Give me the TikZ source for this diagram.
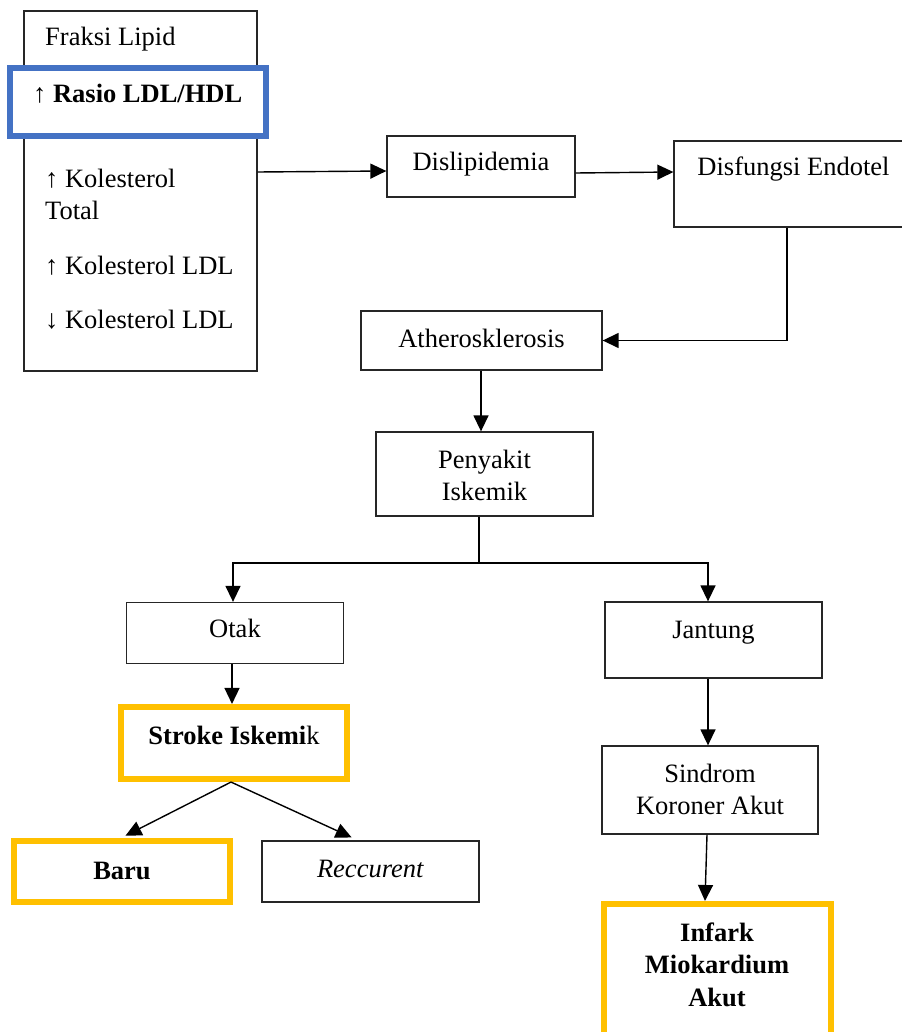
\documentclass[tikz,border=0pt]{standalone}
\usepackage{fontspec}
\setmainfont{Liberation Serif}
\usetikzlibrary{arrows.meta}
\definecolor{blueb}{HTML}{4472C4}
\definecolor{goldb}{HTML}{FFC000}
\begin{document}
\begin{tikzpicture}[x=1pt,y=-1pt,
  box/.style={draw=black!85, line width=1.3pt, inner sep=0pt, fill=white},
  hibox/.style={draw=goldb, line width=5.6pt, inner sep=0pt, fill=white},
  txt/.style={anchor=base, inner sep=0pt, font=\fontsize{26.5}{32.5}\selectfont},
  ltxt/.style={txt, anchor=base west},
  conn/.style={line width=1.4pt, draw=black},
  arr/.style={conn, -{Triangle[length=16pt,width=15pt]}}]
\useasboundingbox (0,0) rectangle (901,1032);

% boxes
\node[box, minimum width=233pt, minimum height=360pt] (lipid) at (140.5,191) {};
\node[hibox, draw=blueb, minimum width=256.3pt, minimum height=67.9pt] (ratio) at (137.85,102.25) {};
\node[box, minimum width=188pt, minimum height=61pt] (dis) at (481,166.5) {};
\node[box, minimum width=241pt, minimum height=86pt] (endo) at (794.5,184) {};
\node[box, minimum width=241pt, minimum height=59pt] (ath) at (481.5,340.5) {};
\node[box, minimum width=217pt, minimum height=84pt] (peny) at (484.5,474) {};
\node[box, minimum width=216.6pt, minimum height=61pt] (otak) at (235,633) {};
\node[box, minimum width=217pt, minimum height=76pt] (jant) at (713.5,640) {};
\node[hibox, minimum width=226.5pt, minimum height=72.5pt] (stroke) at (234,743) {};
\node[hibox, minimum width=216.4pt, minimum height=61.4pt] (baru) at (122,871.5) {};
\node[box, minimum width=217pt, minimum height=61pt] (rec) at (370.5,871.5) {};
\node[box, minimum width=216pt, minimum height=88pt] (sind) at (710,790) {};
\node[hibox, minimum width=227.5pt, minimum height=146.3pt] (inf) at (717.5,976.9) {};

% texts
\node[ltxt] (t-fl) at (45,46) {Fraksi Lipid};
\node[ltxt] (t-ratio) at (33,103) {↑ \textbf{Rasio LDL/HDL}};
\node[ltxt] (t-kt1) at (45,188) {↑ Kolesterol};
\node[ltxt] (t-kt2) at (45,220) {Total};
\node[ltxt] (t-ldl) at (45,274) {↑ Kolesterol LDL};
\node[ltxt] (t-ldl2) at (45,328) {↓ Kolesterol LDL};
\node[txt] (t-dis) at (481,171) {Dislipidemia};
\node[txt] (t-endo) at (793.5,176) {Disfungsi Endotel};
\node[txt] (t-ath) at (481.5,347) {Atherosklerosis};
\node[txt] (t-peny1) at (484.5,468) {Penyakit};
\node[txt] (t-peny2) at (484.5,500) {Iskemik};
\node[txt] (t-otak) at (235,637) {Otak};
\node[txt] (t-jant) at (713.5,638) {Jantung};
\node[txt] (t-stroke) at (234,744) {\textbf{Stroke Iskemi}k};
\node[txt] (t-baru) at (122,879) {\textbf{Baru}};
\node[txt] (t-rec) at (370.5,877) {\textit{Reccurent}};
\node[txt] (t-sind1) at (710,782) {Sindrom};
\node[txt] (t-sind2) at (710,814) {Koroner Akut};
\node[txt] (t-inf1) at (717,941) {\textbf{Infark}};
\node[txt] (t-inf2) at (717,973) {\textbf{Miokardium}};
\node[txt] (t-inf3) at (717,1006) {\textbf{Akut}};

% connectors
\draw[arr] (lipid.east |- 0,172) -- (dis.west |- 0,171);
\draw[arr] (dis.east |- 0,173) -- (endo.west |- 0,172);
\draw[arr] (endo.south -| 787,0) |- (ath.east);
\draw[arr] (ath.south -| 481,0) -- (peny.north -| 481,0);
\draw[conn] (peny.south -| 479,0) -- (479,563) coordinate (split);
\draw[arr] (split) -| (otak.north -| 233,0);
\draw[arr] (split) -| (jant.north -| 708,0);
\draw[arr] (otak.south -| 232,0) -- (stroke.north -| 232,0);
\draw[arr, shorten >=5pt] (stroke.south -| 231,0) -- (baru.north -| 121,0);
\draw[arr, shorten >=7pt] (stroke.south -| 231,0) -- (rec.north -| 358,0);
\draw[arr] (jant.south -| 708,0) -- (sind.north -| 708,0);
\draw[arr] (sind.south -| 707,0) -- (inf.north -| 705,0);
\end{tikzpicture}
\end{document}
